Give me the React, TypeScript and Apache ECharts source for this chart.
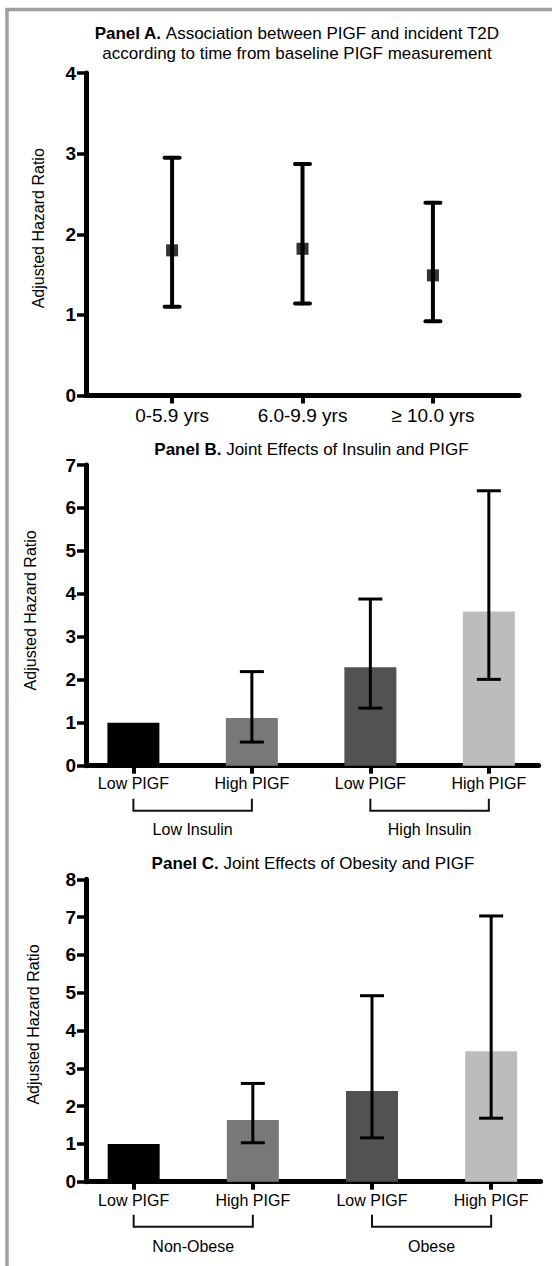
import React, { useEffect, useRef } from "react";
import * as echarts from "echarts";

// ---------- Panel A data ----------
const timeCategories = ["0-5.9 yrs", "6.0-9.9 yrs", "≥ 10.0 yrs"];
const timeHR = [1.8, 1.82, 1.49];
const timeLower = [1.1, 1.14, 0.92];
const timeUpper = [2.95, 2.87, 2.39];
const panelATicks = { min: 0, max: 4, interval: 1 };

// ---------- Panel B data ----------
const pigfCategories = ["Low PIGF", "High PIGF", "Low PIGF", "High PIGF"];
const insulinGroups = ["Low Insulin", "High Insulin"];
const insulinHR = [1.0, 1.11, 2.29, 3.59];
const insulinLower = [null, 0.55, 1.34, 2.01];
const insulinUpper = [null, 2.19, 3.88, 6.4];
const panelBTicks = { min: 0, max: 7, interval: 1 };

// ---------- Panel C data ----------
const obesityGroups = ["Non-Obese", "Obese"];
const obesityHR = [1.0, 1.63, 2.4, 3.45];
const obesityLower = [null, 1.03, 1.16, 1.68];
const obesityUpper = [null, 2.6, 4.92, 7.03];
const panelCTicks = { min: 0, max: 8, interval: 1 };

const barColors = ["#000000", "#787878", "#525252", "#bcbcbc"];

const FONT = "'Liberation Sans', Arial, Helvetica, sans-serif";

function errorBarRenderer(cap: number, width: number, round: boolean) {
  return (params: any, api: any) => {
    const x = api.value(0);
    const lo = api.value(1);
    const hi = api.value(2);
    const pLo = api.coord([x, lo]);
    const pHi = api.coord([x, hi]);
    const style = { stroke: "#000", lineWidth: width, lineCap: round ? "round" : "butt" };
    return {
      type: "group",
      children: [
        { type: "line", shape: { x1: pLo[0], y1: pLo[1], x2: pHi[0], y2: pHi[1] }, style },
        { type: "line", shape: { x1: pLo[0] - cap / 2, y1: pLo[1], x2: pLo[0] + cap / 2, y2: pLo[1] }, style },
        { type: "line", shape: { x1: pHi[0] - cap / 2, y1: pHi[1], x2: pHi[0] + cap / 2, y2: pHi[1] }, style },
      ],
    };
  };
}

function bracketRenderer(params: any, api: any) {
  const a = api.coord([api.value(0), 0]);
  const b = api.coord([api.value(1), 0]);
  return {
    type: "polyline",
    shape: {
      points: [
        [a[0], a[1] + 33],
        [a[0], a[1] + 45],
        [b[0], b[1] + 45],
        [b[0], b[1] + 33],
      ],
    },
    style: { stroke: "#111", lineWidth: 2, fill: "none" },
  };
}

function yAxisCfg(gridIndex: number, ticks: any, nameGap: number, shift: number) {
  return {
    type: "value",
    gridIndex,
    min: ticks.min,
    max: ticks.max,
    interval: ticks.interval,
    name: "Adjusted Hazard Ratio",
    nameLocation: "middle",
    nameGap,
    nameTextStyle: { fontFamily: FONT, fontSize: 16, color: "#000", padding: [0, 0, 0, shift] },
    axisLine: { show: true, lineStyle: { color: "#000", width: 5 } },
    axisTick: { show: true, length: 9, lineStyle: { color: "#000", width: 3.5 } },
    axisLabel: { fontFamily: FONT, fontSize: 19, fontWeight: "bold", color: "#000", margin: 10 },
    splitLine: { show: false },
  };
}

function xAxisCfg(gridIndex: number, min: number, max: number, labels: string[], fontSize: number, margin: number) {
  const vals = labels.map((_, i) => i + 1);
  return {
    type: "value",
    gridIndex,
    min,
    max,
    position: "bottom",
    axisLine: { show: true, onZero: false, lineStyle: { color: "#000", width: 5 } },
    axisTick: { show: true, customValues: vals, length: 8, lineStyle: { color: "#000", width: 4 } },
    axisLabel: {
      customValues: vals,
      formatter: (v: number) => labels[Math.round(v) - 1] ?? "",
      fontFamily: FONT,
      fontSize,
      color: "#000",
      margin,
    },
    splitLine: { show: false },
  };
}

function groupAxisCfg(gridIndex: number, min: number, max: number, groups: string[], margin: number) {
  return {
    type: "value",
    gridIndex,
    min,
    max,
    position: "bottom",
    axisLine: { show: false },
    axisTick: { show: false },
    axisLabel: {
      customValues: [1.5, 3.5],
      formatter: (v: number) => groups[Math.round((v - 1.5) / 2)] ?? "",
      fontFamily: FONT,
      fontSize: 16,
      color: "#000",
      margin,
    },
    splitLine: { show: false },
  };
}

function titleText(x: number, y: number, text: string) {
  return {
    type: "text",
    x,
    y,
    style: {
      text,
      align: "center",
      verticalAlign: "middle",
      fontFamily: FONT,
      fontSize: 17,
      lineHeight: 20,
      fill: "#000",
      rich: { b: { fontWeight: "bold", fontSize: 17, fontFamily: FONT, fill: "#000", lineHeight: 20 } },
    },
  };
}

export default function App() {
  const ref = useRef<HTMLDivElement>(null);

  useEffect(() => {
    document.body.style.margin = "0";
    if (!ref.current) return;
    const chart = echarts.init(ref.current, undefined, { renderer: "svg" });

    const aMin = 0.34, aMax = 3.66;
    const bMin = 0.6, bMax = 4.42;
    const cMin = 0.6, cMax = 4.415;

    const option: any = {
      animation: false,
      backgroundColor: "#fff",
      grid: [
        { left: 86, right: 33, top: 73, height: 322.5, containLabel: false },
        { left: 86, right: 13.4, top: 465, height: 300.7, containLabel: false },
        { left: 86, right: 11.4, top: 879.3, height: 302.4, containLabel: false },
      ],
      xAxis: [
        xAxisCfg(0, aMin, aMax, timeCategories, 19, 10),
        xAxisCfg(1, bMin, bMax, pigfCategories, 16, 10),
        groupAxisCfg(1, bMin, bMax, insulinGroups, 56),
        xAxisCfg(2, cMin, cMax, pigfCategories, 16, 11),
        groupAxisCfg(2, cMin, cMax, obesityGroups, 57),
      ],
      yAxis: [
        yAxisCfg(0, panelATicks, 40, 12),
        yAxisCfg(1, panelBTicks, 48, 10),
        yAxisCfg(2, panelCTicks, 44.5, 12),
      ],
      series: [
        // Panel A
        {
          type: "custom",
          xAxisIndex: 0,
          yAxisIndex: 0,
          renderItem: errorBarRenderer(15, 4, true),
          data: timeCategories.map((_, i) => [i + 1, timeLower[i], timeUpper[i]]),
          z: 3,
          silent: true,
        },
        {
          type: "scatter",
          xAxisIndex: 0,
          yAxisIndex: 0,
          symbol: "rect",
          symbolSize: 12,
          itemStyle: { color: "#000" },
          data: timeCategories.map((_, i) => [i + 1, timeHR[i]]),
          z: 4,
          silent: true,
        },
        // Panel B
        {
          type: "bar",
          xAxisIndex: 1,
          yAxisIndex: 1,
          barWidth: 52,
          data: insulinHR.map((v, i) => ({ value: [i + 1, v], itemStyle: { color: barColors[i] } })),
          z: 2,
          silent: true,
        },
        {
          type: "custom",
          xAxisIndex: 1,
          yAxisIndex: 1,
          renderItem: errorBarRenderer(24, 3, false),
          data: insulinHR
            .map((_, i) => [i + 1, insulinLower[i], insulinUpper[i]])
            .filter((d) => d[1] != null),
          z: 3,
          silent: true,
        },
        {
          type: "custom",
          xAxisIndex: 1,
          yAxisIndex: 1,
          renderItem: bracketRenderer,
          data: [[1, 2], [3, 4]],
          clip: false,
          silent: true,
        },
        // Panel C
        {
          type: "bar",
          xAxisIndex: 3,
          yAxisIndex: 2,
          barWidth: 52,
          data: obesityHR.map((v, i) => ({ value: [i + 1, v], itemStyle: { color: barColors[i] } })),
          z: 2,
          silent: true,
        },
        {
          type: "custom",
          xAxisIndex: 3,
          yAxisIndex: 2,
          renderItem: errorBarRenderer(24, 3, false),
          data: obesityHR
            .map((_, i) => [i + 1, obesityLower[i], obesityUpper[i]])
            .filter((d) => d[1] != null),
          z: 3,
          silent: true,
        },
        {
          type: "custom",
          xAxisIndex: 3,
          yAxisIndex: 2,
          renderItem: bracketRenderer,
          data: [[1, 2], [3, 4]],
          clip: false,
          silent: true,
        },
      ],
      graphic: [
        { type: "line", shape: { x1: 7, y1: 8, x2: 7, y2: 1266 }, style: { stroke: "#a0a0a0", lineWidth: 3.5 } },
        { type: "line", shape: { x1: 5.5, y1: 9.5, x2: 552, y2: 9.5 }, style: { stroke: "#a0a0a0", lineWidth: 3.5 } },
        titleText(297, 43, "{b|Panel A.} Association between PIGF and incident T2D\naccording to time from baseline PIGF measurement"),
        titleText(311.5, 449, "{b|Panel B.} Joint Effects of Insulin and PIGF"),
        titleText(313, 863, "{b|Panel C.} Joint Effects of Obesity and PIGF"),
      ],
    };

    chart.setOption(option);
    return () => chart.dispose();
  }, []);

  return <div ref={ref} style={{ width: 552, height: 1266 }} />;
}
